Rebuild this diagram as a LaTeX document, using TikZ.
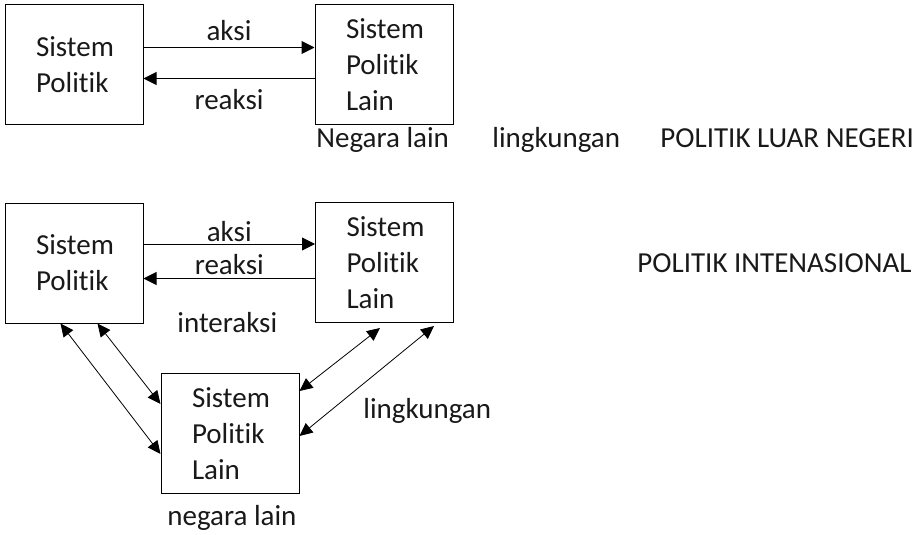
\documentclass[tikz,border=0pt]{standalone}
\usepackage{fontspec}
\setmainfont[Ligatures=NoCommon]{Carlito}
\usetikzlibrary{arrows.meta}

\begin{document}
\begin{tikzpicture}[x=0.5pt,y=-0.5pt,
  every node/.style={font=\fontsize{14.5pt}{18pt}\selectfont,text=black!90},
  sys/.style={draw,line width=0.5pt,text width=38pt,inner xsep=15.5pt,align=left,minimum height=60pt},
  arr/.style={line width=0.5pt,-{Triangle[length=6.5pt,width=6.5pt]}},
  darr/.style={line width=0.4pt,{Triangle[length=6.5pt,width=6pt]}-{Triangle[length=6.5pt,width=6pt]}},
  lbl/.style={anchor=base west,inner sep=0pt}]
\useasboundingbox (0,0) rectangle (921,535);

% politik luar negeri
\node(sp1)[sys] at (74,64.5) {Sistem\\Politik};
\node(sl1)[sys] at (384,64.5) {Sistem\\Politik\\Lain};
\draw[arr] ([yshift=8.5pt]sp1.east) -- ([yshift=8.5pt]sp1.east -| sl1.west) node[midway,above,inner sep=3pt]{aksi};
\draw[arr] ([yshift=-7pt]sl1.west) -- ([yshift=-7pt]sl1.west -| sp1.east) node[midway,below,yshift=-2pt]{reaksi};

\node(nl1)[lbl] at (316,148) {Negara lain};
\node(lk1)[lbl] at (492,148) {lingkungan};
\node(pln)[lbl] at (660,148) {POLITIK LUAR NEGERI};

% politik internasional
\node(sp2)[sys] at (74,263) {Sistem\\Politik};
\node(sl2)[sys] at (384.5,262.5) {Sistem\\Politik\\Lain};
\node(sl3)[sys] at (230,433.5) {Sistem\\Politik\\Lain};
\draw[arr] ([yshift=9.5pt]sp2.east) -- ([yshift=9.5pt]sp2.east -| sl2.west) node[midway,above,inner sep=1pt]{aksi};
\draw[arr] ([yshift=-8pt]sl2.west) -- ([yshift=-8pt]sl2.west -| sp2.east) node[midway,above,inner sep=1.5pt]{reaksi};

\node(ia)[lbl] at (177,332) {interaksi};
\node(lk2)[lbl] at (363,418) {lingkungan};
\node(nl2)[lbl] at (167,525) {negara lain};
\node(pin)[lbl] at (637,272) {POLITIK INTENASIONAL};

\draw[darr] ([xshift=28pt]sp2.south west) -- ([yshift=20pt]sl3.south west);
\draw[darr] ([xshift=46.5pt]sp2.south west) -- ([yshift=45pt]sl3.south west);
\draw[darr] ([xshift=32.5pt,yshift=-2.5pt]sl2.south west) -- ([yshift=51.5pt]sl3.south east);
\draw[darr] ([xshift=59.5pt,yshift=-1.5pt]sl2.south west) -- ([yshift=29pt]sl3.south east);
\end{tikzpicture}
\end{document}
